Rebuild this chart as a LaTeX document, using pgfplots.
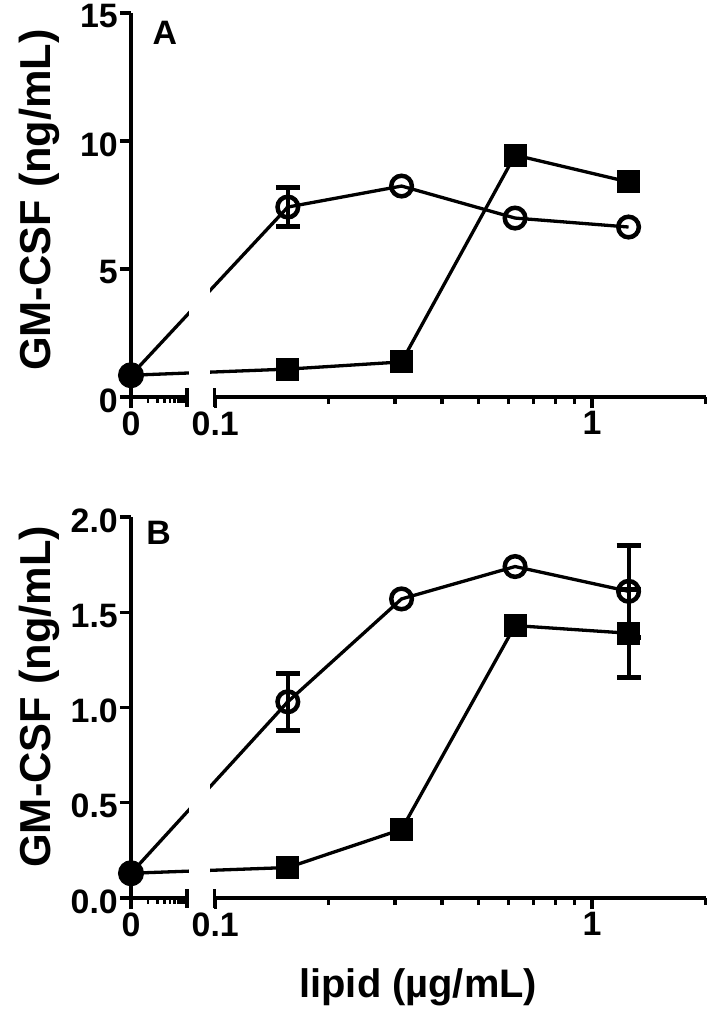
\documentclass[border=0pt]{standalone}
\usepackage{pgfplots}
\pgfplotsset{compat=1.18}
\usepackage{fontspec}
\setmainfont{Liberation Sans}

\pgfplotsset{
  gm/.style={
    scale only axis, width=574.5bp, clip=false,
    xmin=0, xmax=2,
    x coord trafo/.code={\pgfmathparse{ifthenelse(##1==0,-0.2228,log10(max(##1,0.001))+1)}},
    axis x line*=bottom, axis y line*=left,
    axis line style={line width=3.5bp},
    x axis line style={draw=none},
    tick align=outside,
    every tick/.append style={line width=3.3bp, black},
    major tick length=11bp, minor tick length=7bp,
    xtick={0,0.1,1}, xticklabels={0,0.1,1},
    minor xtick={0.2,0.3,0.4,0.5,0.6,0.7,0.8,0.9,2},
    tick label style={font=\fontsize{34}{34}\selectfont\bfseries},
    /pgf/number format/assume math mode=true,
    yticklabel style={inner sep=2bp, yshift=-3.5bp},
    ylabel={GM-CSF (ng/mL)},
    ylabel style={font=\fontsize{43.5}{43.5}\selectfont\bfseries, anchor=center},
  },
  circ/.style={black, line width=3.3bp, mark=o, mark size=10.3bp, mark indices={2,3,4,5},
    mark options={line width=4.5bp, solid}},
  sq/.style={black, line width=3.3bp, mark=square*, mark size=10.5bp, mark indices={2,3,4,5},
    mark options={line width=2bp, solid, fill=black}},
  err/.style={only marks, mark=none, black,
    restrict expr to domain={\thisrow{e}}{0.01:100},
    error bars/.cd, y dir=both, y explicit,
    error bar style={line width=4bp, black, solid},
    error mark options={line width=5bp, mark size=12bp, black, rotate=90}},
  zero/.style={only marks, mark=*, mark size=12.5bp, mark options={line width=1bp, fill=black}, black},
}

\newcommand{\xdecor}{%
  \fill[white] (rel axis cs:0.1001,0.012) rectangle (rel axis cs:0.1375,1);
  \draw[line width=3.5bp] (rel axis cs:-0.0191,0) -- (rel axis cs:0.0975,0);
  \draw[line width=3.5bp] (rel axis cs:0.1453,0) -- (rel axis cs:1,0);
  \draw[line width=3.3bp] (rel axis cs:0.0975,0) ++(0,-9.5bp) -- ++(0,19bp);
  \draw[line width=3.3bp] (rel axis cs:0.1453,0) ++(0,-9.5bp) -- ++(0,19bp);
  \draw[line width=2.7bp] (rel axis cs:0.0294,0) -- ++(0,-6bp);
  \draw[line width=2.7bp] (rel axis cs:0.0465,0) -- ++(0,-6bp);
  \draw[line width=2.7bp] (rel axis cs:0.0587,0) -- ++(0,-6bp);
  \draw[line width=2.7bp] (rel axis cs:0.0681,0) -- ++(0,-6bp);
  \draw[line width=2.7bp] (rel axis cs:0.0759,0) -- ++(0,-6bp);
  \draw[line width=2.7bp] (rel axis cs:0.0824,0) -- ++(0,-6bp);
  \draw[line width=2.7bp] (rel axis cs:0.0881,0) -- ++(0,-6bp);
  \draw[line width=2.7bp] (rel axis cs:0.0930,0) -- ++(0,-6bp);
}

\pgfplotstableread{
x      y     e
0      0.85  0
0.156  7.42  0.76
0.3125 8.24  0
0.625  6.99  0
1.25   6.64  0
}\Acirc
\pgfplotstableread{
x      y     e
0      0.85  0
0.156  1.09  0
0.3125 1.37  0
0.625  9.45  0
1.25   8.40  0
}\Asq
\pgfplotstableread{
x      y     e
0      0.13  0
0.156  1.03  0.15
0.3125 1.57  0
0.625  1.74  0
1.25   1.61  0.24
}\Bcirc
\pgfplotstableread{
x      y     e
0      0.13  0
0.156  0.16  0
0.3125 0.36  0
0.625  1.43  0
1.25   1.39  0.23
}\Bsq

\begin{document}
\begin{tikzpicture}
\useasboundingbox (0,0) rectangle (713bp,-1016bp);

\begin{axis}[gm, at={(131bp,-397bp)}, anchor=south west, height=384bp,
  ymin=0, ymax=15, ytick={0,5,10,15},
  ylabel style={at={(axis description cs:-0.160,0.513)}}]
  \addplot[circ] table[x=x, y=y] {\Acirc};
  \addplot[sq] table[x=x, y=y] {\Asq};
  \addplot[err] table[x=x, y=y, y error=e] {\Acirc};
  \addplot[err] table[x=x, y=y, y error=e] {\Asq};
  \addplot[zero] coordinates {(0,0.85)};
  \xdecor
  \node[font=\fontsize{34}{34}\selectfont\bfseries] at (rel axis cs:0.059,0.948) {A};
\end{axis}

\begin{axis}[gm, at={(131bp,-898bp)}, anchor=south west, height=381bp,
  ymin=0, ymax=2, ytick={0,0.5,1,1.5,2},
  yticklabel style={/pgf/number format/.cd, fixed, fixed zerofill, precision=1},
  ylabel style={at={(axis description cs:-0.160,0.528)}},
  xlabel={lipid (µg/mL)},
  xlabel style={at={(axis description cs:0.5,-0.233)}, anchor=center, font=\fontsize{40}{40}\selectfont\bfseries}]
  \addplot[circ] table[x=x, y=y] {\Bcirc};
  \addplot[sq] table[x=x, y=y] {\Bsq};
  \addplot[err] table[x=x, y=y, y error=e] {\Bcirc};
  \addplot[err] table[x=x, y=y, y error=e] {\Bsq};
  \addplot[zero] coordinates {(0,0.13)};
  \xdecor
  \node[font=\fontsize{34}{34}\selectfont\bfseries] at (rel axis cs:0.048,0.959) {B};
\end{axis}
\end{tikzpicture}
\end{document}
